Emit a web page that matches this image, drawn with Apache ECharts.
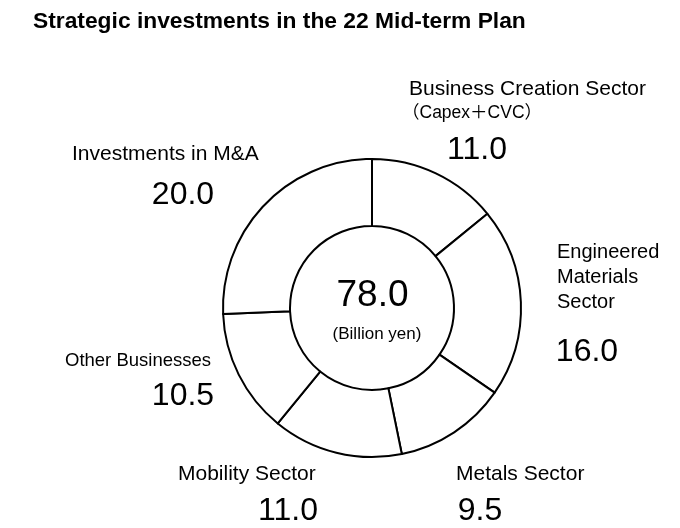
<!DOCTYPE html>
<html>
<head>
<meta charset="utf-8">
<script src="https://cdn.jsdelivr.net/npm/echarts@6/dist/echarts.min.js"></script>
<style>
  html, body { margin: 0; padding: 0; background: #fff; }
  #chart { width: 680px; height: 528px; }
</style>
</head>
<body>
<div id="chart"></div>
<script>
// Strategic investment breakdown (billion yen), clockwise from 12 o'clock
const sectorNames = [
  'Business Creation Sector',
  'Engineered Materials Sector',
  'Metals Sector',
  'Mobility Sector',
  'Other Businesses',
  'Investments in M&A'
];
const sectorValues = [11.0, 16.0, 9.5, 11.0, 10.5, 20.0];
const titleText = 'Strategic investments in the 22 Mid-term Plan';
const unitText = '(Billion yen)';

// Label placement around the ring: name lines, optional note, value
const labelLayout = [
  { lines: ['Business Creation Sector'], note: '（Capex＋CVC）', nx: 409, ny: 89, vx: 477, vy: 150, nSize: 21 },
  { lines: ['Engineered', 'Materials', 'Sector'], nx: 557, ny: 252, vx: 587, vy: 352.5, nSize: 20 },
  { lines: ['Metals Sector'], nx: 456, ny: 474, vx: 480, vy: 511, nSize: 21 },
  { lines: ['Mobility Sector'], nx: 178, ny: 474, vx: 288, vy: 511, nSize: 21 },
  { lines: ['Other Businesses'], nx: 65, ny: 361, vx: 183, vy: 396.5, nSize: 18.5 },
  { lines: ['Investments in M&A'], nx: 72, ny: 154, vx: 183, vy: 195.5, nSize: 21 }
];

const FONT = '"Liberation Sans", Arial, "Noto Sans CJK JP", sans-serif';
const total = sectorValues.reduce((a, b) => a + b, 0);

const graphics = [
  {
    type: 'text', x: 33, y: 22,
    style: { text: titleText, font: 'bold 22.8px ' + FONT, fill: '#000', align: 'left', verticalAlign: 'middle' }
  },
  {
    type: 'text', x: 372.5, y: 295.5,
    style: { text: total.toFixed(1), font: '37px ' + FONT, fill: '#000', align: 'center', verticalAlign: 'middle' }
  },
  {
    type: 'text', x: 377, y: 334,
    style: { text: unitText, font: '17px ' + FONT, fill: '#000', align: 'center', verticalAlign: 'middle' }
  }
];

labelLayout.forEach((lay, i) => {
  lay.lines.forEach((line, k) => {
    graphics.push({
      type: 'text', x: lay.nx, y: lay.ny + k * 25.3,
      style: {
        text: line, font: lay.nSize + 'px ' + FONT,
        fill: '#000', align: 'left', verticalAlign: 'middle'
      }
    });
  });
  if (lay.note) {
    graphics.push({
      type: 'text', x: lay.nx - 7, y: lay.ny + 24.5,
      style: { text: lay.note, font: '17.5px ' + FONT, fill: '#000', align: 'left', verticalAlign: 'middle' }
    });
  }
  graphics.push({
    type: 'text', x: lay.vx, y: lay.vy,
    style: {
      text: sectorValues[i].toFixed(1), font: '32px ' + FONT,
      fill: '#000', align: 'center', verticalAlign: 'middle'
    }
  });
});

const chart = echarts.init(document.getElementById('chart'), null, { renderer: 'canvas' });
chart.setOption({
  backgroundColor: '#fff',
  animation: false,
  graphic: graphics,
  series: [{
    type: 'pie',
    center: [372, 308],
    radius: [82, 149],
    startAngle: 90,
    clockwise: true,
    silent: true,
    label: { show: false },
    labelLine: { show: false },
    itemStyle: { color: '#fff', borderColor: '#000', borderWidth: 2 },
    data: sectorNames.map((n, i) => ({ name: n, value: sectorValues[i] }))
  }]
});
</script>
</body>
</html>
